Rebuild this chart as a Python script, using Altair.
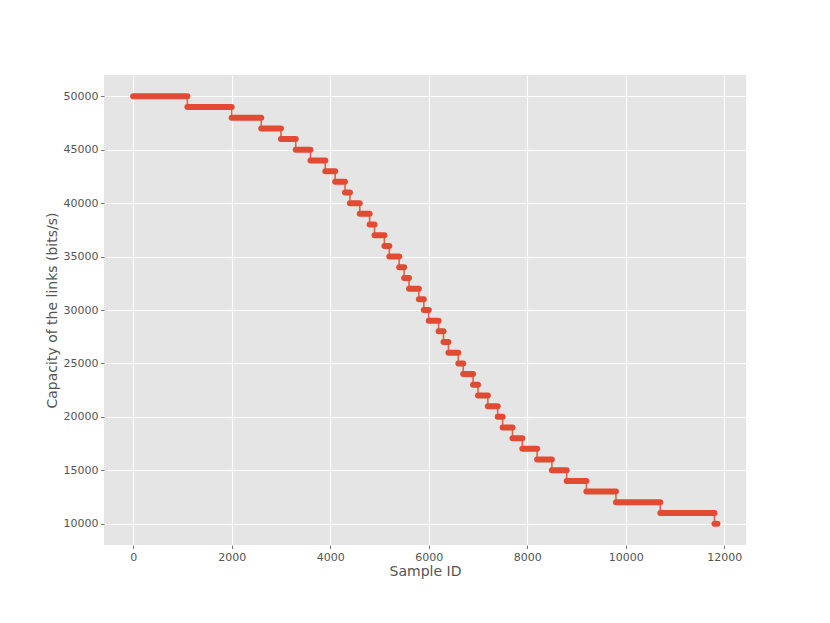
import altair as alt
import pandas as pd

# Sample ID at which each capacity level begins
step_start = [0, 1100, 2000, 2600, 3000, 3300, 3600, 3900, 4100, 4300,
              4400, 4600, 4800, 4900, 5100, 5200, 5400, 5500, 5600, 5800,
              5900, 6000, 6200, 6300, 6400, 6600, 6700, 6900, 7000, 7200,
              7400, 7500, 7700, 7900, 8200, 8500, 8800, 9200, 9800, 10700,
              11800]
last_sample = 11860
# Capacity of the links (bits/s) at each level
capacity = [50000, 49000, 48000, 47000, 46000, 45000, 44000, 43000, 42000, 41000,
            40000, 39000, 38000, 37000, 36000, 35000, 34000, 33000, 32000, 31000,
            30000, 29000, 28000, 27000, 26000, 25000, 24000, 23000, 22000, 21000,
            20000, 19000, 18000, 17000, 16000, 15000, 14000, 13000, 12000, 11000,
            10000]

x_ticks = [0, 2000, 4000, 6000, 8000, 10000, 12000]
y_ticks = [10000, 15000, 20000, 25000, 30000, 35000, 40000, 45000, 50000]

step_end = step_start[1:] + [last_sample]
seg = pd.DataFrame({"start": step_start, "end": step_end, "cap": capacity})
pts = pd.DataFrame({"sid": step_start + [last_sample], "cap": capacity + [capacity[-1]]})

RED = "#E24A33"
xscale = alt.Scale(domain=[-592, 12440], nice=False, zero=False)
yscale = alt.Scale(domain=[8000, 52000], nice=False, zero=False)

xaxis = alt.Axis(values=x_ticks, format="d", title="Sample ID",
                 titleY=30, titleBaseline="alphabetic", titleAnchor="middle")
yaxis = alt.Axis(values=y_ticks, format="d", title="Capacity of the links (bits/s)",
                 titleX=-48, titleY=235, titleAngle=270, titleBaseline="alphabetic",
                 titleAlign="center")

connector = alt.Chart(pts).mark_line(
    interpolate="step-after", color=RED, strokeWidth=1.6, opacity=0.85
).encode(
    x=alt.X("sid:Q", scale=xscale, axis=xaxis),
    y=alt.Y("cap:Q", scale=yscale, axis=yaxis),
)

bars = alt.Chart(seg).mark_rule(
    color=RED, strokeWidth=6, strokeCap="round"
).encode(
    x=alt.X("start:Q", scale=xscale),
    x2="end:Q",
    y=alt.Y("cap:Q", scale=yscale),
)

chart = alt.layer(connector, bars).properties(
    width=642, height=470,
    padding={"left": 96, "top": 67, "right": 76, "bottom": 62},
    autosize=alt.AutoSizeParams(type="none"),
).configure_view(
    fill="#E5E5E5", stroke=None
).configure_axis(
    grid=True, gridColor="white", gridWidth=1.2,
    domain=False,
    tickColor="#555555", tickSize=3.5, tickWidth=0.8,
    labelFont="DejaVu Sans", labelFontSize=11, labelColor="#555555", labelPadding=2.5,
    titleFont="DejaVu Sans", titleFontSize=14, titleColor="#555555", titleFontWeight="normal",
)

chart.save("out.html", embed_options={"renderer": "svg", "actions": False})
